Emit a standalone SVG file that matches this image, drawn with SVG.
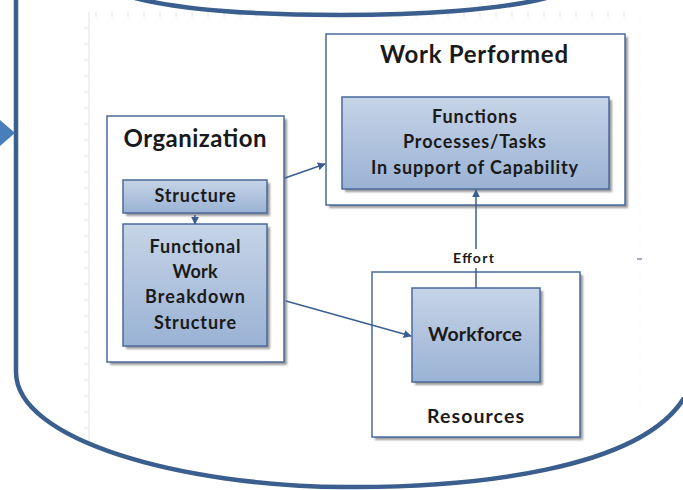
<svg xmlns="http://www.w3.org/2000/svg" width="683" height="490" viewBox="0 0 683 490">
<defs>
<linearGradient id="g" x1="0" y1="0" x2="0" y2="1">
<stop offset="0" stop-color="#C6D4E7"/>
<stop offset="1" stop-color="#9AB2D4"/>
</linearGradient>
<marker id="ah" viewBox="0 0 10 10" refX="9" refY="5" markerWidth="8" markerHeight="8" markerUnits="userSpaceOnUse" orient="auto">
<path d="M0,0 L10,5 L0,10 z" fill="#3B5E91"/>
</marker>
<filter id="sh" x="-10%" y="-10%" width="130%" height="130%">
<feGaussianBlur stdDeviation="1"/>
</filter>
</defs>
<style>
.t{font-family:Lato,"Open Sans","Liberation Sans",sans-serif;font-weight:bold;fill:#1a1a1a;text-anchor:middle}
.box{fill:#fff;stroke:#4A6A9C;stroke-width:1.5}
.inner{fill:url(#g);stroke:#4A6A9C;stroke-width:1.5}
.shadow{fill:#9a9a9a;filter:url(#sh)}
.con{stroke:#3B5E91;stroke-width:1.5;fill:none}
.grid{stroke:#e2e2e2;stroke-width:1;fill:none}
</style>
<rect width="683" height="490" fill="#ffffff"/>
<g id="background-grid">
<line class="grid" x1="89" y1="12" x2="89" y2="445"/>
<path class="grid" d="M84 28h5M84 44h5M84 60h5M84 76h5M84 92h5M84 108h5M84 124h5M84 140h5M84 156h5M84 172h5M84 188h5M84 204h5M84 220h5M84 236h5M84 252h5M84 268h5M84 284h5M84 300h5M84 316h5M84 332h5M84 348h5M84 364h5M84 380h5M84 396h5M84 412h5M84 428h5"/>
<path class="grid" d="M96 12v5M112 12v5M128 12v5M144 12v5M160 12v5M176 12v5M192 12v5M208 12v5M224 12v5M240 12v5M256 12v5M272 12v5M288 12v5M304 12v5M320 12v5M336 12v5M352 12v5M368 12v5M384 12v5M400 12v5M416 12v5M432 12v5M448 12v5M464 12v5M480 12v5M496 12v5M512 12v5M528 12v5M544 12v5M560 12v5M576 12v5M592 12v5M608 12v5M624 12v5"/>
<line class="grid" x1="640" y1="20" x2="640" y2="420" stroke-dasharray="1 15"/>
<line x1="637" y1="259" x2="642" y2="259" stroke="#3B5E91" stroke-width="1"/>
</g>
<g id="frame">
<path d="M16 0 L16 372 C16 440 180 486 345 487 C470 488 640 470 684 398" fill="none" stroke="#3A5E8E" stroke-width="4.5"/>
<path d="M135 -2 C190 12 270 15 340 15 C420 15 500 10 546 -2" fill="none" stroke="#3A5E8E" stroke-width="4.5"/>
<path d="M0 120 L15 133 L0 146 z" fill="#4A7EBB"/>
</g>
<g id="organization">
<rect class="shadow" x="110" y="119" width="177" height="246"/>
<rect class="box" x="107" y="116" width="177" height="246"/>
<text class="t" x="195" y="147" font-size="24" textLength="143" lengthAdjust="spacing">Organization</text>
</g>
<g id="structure">
<rect class="shadow" x="126" y="183" width="144" height="33"/>
<rect class="inner" x="123" y="180" width="144" height="33"/>
<text class="t" x="195" y="202" font-size="18" textLength="81" lengthAdjust="spacing">Structure</text>
</g>
<g id="fwbs">
<rect class="shadow" x="126" y="227" width="144" height="122"/>
<rect class="inner" x="123" y="224" width="144" height="122"/>
<text class="t" x="195" y="253" font-size="18" textLength="91" lengthAdjust="spacing">Functional</text>
<text class="t" x="195" y="278" font-size="18" textLength="45" lengthAdjust="spacing">Work</text>
<text class="t" x="195" y="303" font-size="18" textLength="100" lengthAdjust="spacing">Breakdown</text>
<text class="t" x="195" y="329" font-size="18" textLength="82" lengthAdjust="spacing">Structure</text>
</g>
<g id="work-performed">
<rect class="shadow" x="329" y="37" width="299" height="171"/>
<rect class="box" x="326" y="34" width="299" height="171"/>
<text class="t" x="474" y="63" font-size="24" textLength="188" lengthAdjust="spacing">Work Performed</text>
</g>
<g id="functions">
<rect class="shadow" x="345" y="100" width="267" height="92"/>
<rect class="inner" x="342" y="97" width="267" height="92"/>
<text class="t" x="474.5" y="123" font-size="18" textLength="85" lengthAdjust="spacing">Functions</text>
<text class="t" x="474.5" y="148" font-size="18" textLength="143" lengthAdjust="spacing">Processes/Tasks</text>
<text class="t" x="474.5" y="174" font-size="18" textLength="207" lengthAdjust="spacing">In support of Capability</text>
</g>
<g id="resources">
<rect class="shadow" x="375" y="275" width="208" height="165"/>
<rect class="box" x="372" y="272" width="208" height="165"/>
<text class="t" x="475.5" y="423" font-size="19.5" textLength="97" lengthAdjust="spacing">Resources</text>
</g>
<g id="workforce">
<rect class="shadow" x="415" y="291" width="128" height="94"/>
<rect class="inner" x="412" y="288" width="128" height="94"/>
<text class="t" x="475" y="341" font-size="19.5" textLength="94" lengthAdjust="spacing">Workforce</text>
</g>
<g id="connectors">
<line class="con" x1="195" y1="215" x2="195" y2="224" marker-end="url(#ah)"/>
<line class="con" x1="285" y1="178" x2="325" y2="164" marker-end="url(#ah)"/>
<line class="con" x1="286" y1="301" x2="411" y2="336" marker-end="url(#ah)"/>
<line class="con" x1="476" y1="288" x2="476" y2="268"/>
<line class="con" x1="476" y1="249" x2="476" y2="190" marker-end="url(#ah)"/>
<text class="t" x="473.5" y="263" font-size="14" textLength="41" lengthAdjust="spacing">Effort</text>
</g>
</svg>
